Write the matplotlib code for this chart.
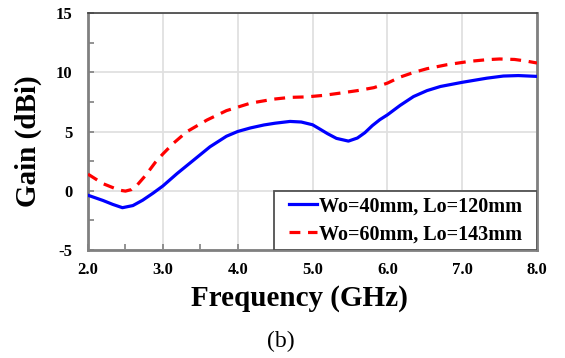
import numpy as np
import matplotlib
matplotlib.use('Agg')
import matplotlib.pyplot as plt
from matplotlib.patches import Rectangle
from matplotlib.ticker import MultipleLocator

plt.rcParams['axes.unicode_minus'] = False

# data
freq_a = [2.0, 2.1, 2.2, 2.33, 2.46, 2.6, 2.73, 2.87, 3.0, 3.19, 3.41, 3.63, 3.85,
          4.0, 4.17, 4.35, 4.5, 4.7, 4.85, 5.0, 5.1, 5.2, 5.32, 5.48, 5.6, 5.7,
          5.8, 5.9, 6.0, 6.17, 6.35, 6.53, 6.71, 7.0, 7.33, 7.55, 7.75, 8.0]
gain_a = [-0.38, -0.6, -0.82, -1.15, -1.43, -1.25, -0.8, -0.2, 0.4, 1.45, 2.58, 3.71, 4.6,
          5.0, 5.3, 5.55, 5.7, 5.85, 5.8, 5.57, 5.2, 4.82, 4.42, 4.19, 4.45, 4.9,
          5.5, 6.0, 6.4, 7.2, 7.95, 8.45, 8.8, 9.15, 9.5, 9.68, 9.72, 9.65]

freq_b = [2.0, 2.1, 2.2, 2.33, 2.42, 2.5, 2.58, 2.66, 2.77, 2.9, 3.0, 3.14, 3.32,
          3.59, 3.85, 4.17, 4.48, 4.7, 4.92, 5.15, 5.37, 5.6, 5.82, 6.0, 6.17,
          6.35, 6.53, 6.8, 7.1, 7.33, 7.5, 7.7, 7.85, 8.0]
gain_b = [1.4, 1.0, 0.6, 0.27, 0.05, -0.03, 0.1, 0.5, 1.3, 2.4, 3.1, 4.0, 4.98,
          5.97, 6.76, 7.39, 7.73, 7.88, 7.92, 8.05, 8.24, 8.45, 8.7, 9.08, 9.59,
          9.98, 10.3, 10.64, 10.92, 11.06, 11.12, 11.08, 10.95, 10.78]

labels = ['Wo=40mm, Lo=120mm', 'Wo=60mm, Lo=143mm']
xticks = [2.0, 3.0, 4.0, 5.0, 6.0, 7.0, 8.0]
yticks = [-5, 0, 5, 10, 15]

serif = 'Liberation Serif'

fig = plt.figure(figsize=(5.65, 3.58), dpi=100)
ax = fig.add_axes([88/565, 1-250/358, 449/565, 237/358])

ax.plot(freq_a, gain_a, color='#0000ff', lw=2.3, label=labels[0], zorder=3,
        solid_joinstyle='round')
ax.plot(freq_b, gain_b, color='#ff0000', lw=2.3, dashes=(3.4, 2.4), label=labels[1], zorder=3)

ax.set_xlim(2.0, 8.0)
ax.set_ylim(-5, 15)
ax.set_xticks(xticks)
ax.set_xticklabels(['%.1f' % t for t in xticks])
ax.set_yticks(yticks)
ax.xaxis.set_minor_locator(MultipleLocator(0.5))
ax.yaxis.set_minor_locator(MultipleLocator(2.5))
ax.grid(True, which='major', color='#e0e0e0', lw=1.3, zorder=0)
ax.tick_params(which='both', direction='in', length=4, width=1.2, color='#808080',
               top=False, right=False)
ax.tick_params(axis='x', pad=9)
ax.tick_params(axis='y', pad=11)
for lab in ax.get_xticklabels() + ax.get_yticklabels():
    lab.set_family(serif)
    lab.set_fontweight('bold')
    lab.set_fontsize(12)

for side in ['left', 'bottom', 'right']:
    ax.spines[side].set_color('#808080')
    ax.spines[side].set_linewidth(2)
ax.spines['top'].set_color('#404040')
ax.spines['top'].set_linewidth(1.2)

# legend box: white rectangle in the lower right corner, entries centred inside
bx, by, bw, bh = 0.414, 0.0, 0.586, 0.249
ax.add_patch(Rectangle((bx, by), bw, bh, transform=ax.transAxes, facecolor='white',
                       edgecolor='#505050', lw=1.3, zorder=4))
leg = ax.legend(loc='center', bbox_to_anchor=(bx, by, bw, bh), frameon=False,
                handlelength=1.4, handletextpad=0.1, borderpad=0.0, labelspacing=0.4,
                prop={'family': serif, 'weight': 'bold', 'size': 14.5})
leg.set_zorder(5)

fig.text(299/565, 1-298/358, 'Frequency (GHz)', ha='center', va='center',
         family=serif, weight='bold', fontsize=21)
fig.text(28/565, 1-141/358, 'Gain (dBi)', ha='center', va='center', rotation=90,
         family=serif, weight='bold', fontsize=21)
fig.text(281/565, 1-341/358, '(b)', ha='center', va='center', family=serif, fontsize=17)

fig.savefig('out.png', dpi=100)
